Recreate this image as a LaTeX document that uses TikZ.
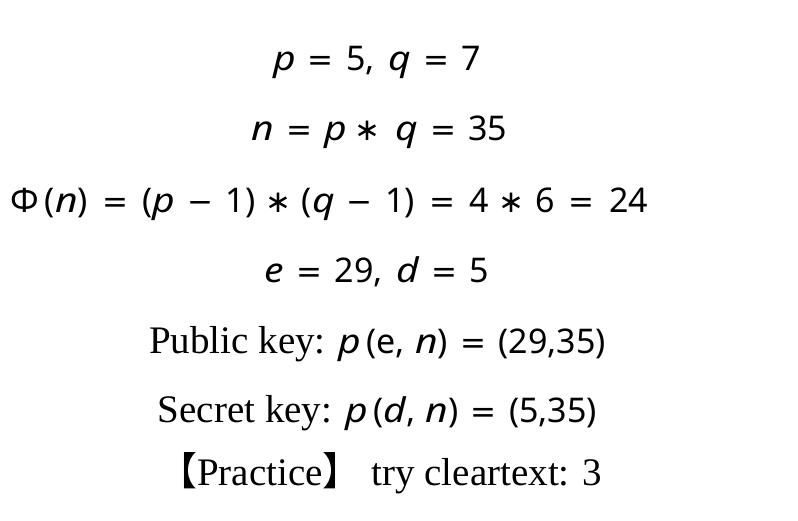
\documentclass[tikz,border=0pt]{standalone}
\usepackage{fontspec}
\usepackage{graphicx}
\setmainfont{Liberation Serif}
\newfontfamily\mymf{Noto Sans}
\newfontfamily\symf{DejaVu Sans}
\newfontfamily\cjk{Noto Sans CJK SC}
\newcommand{\vr}[1]{\scalebox{1.15}[1]{\textit{#1}}}
\newcommand{\opf}{\symf\fontsize{31}{36}\selectfont}
\newcommand{\eqsp}{0.36em}
\newcommand{\mnsp}{0.3em}
\newcommand{\assp}{0.2em}
\newcommand{\eqs}{\hspace{\eqsp}{\opf =}\hspace{\eqsp}}
\newcommand{\mns}{\hspace{\mnsp}{\opf −}\hspace{\mnsp}}
\newcommand{\astk}{\hspace{\assp}{\opf\char"2217}\hspace{\assp}}
\newcommand{\msz}{\mymf\fontsize{34}{40}\selectfont}
\begin{document}
\begin{tikzpicture}[x=1pt,y=-1pt,
  mline/.style={anchor=base,inner sep=0pt,font=\msz},
  tline/.style={anchor=base,inner sep=0pt,font=\fontsize{39}{46}\selectfont}]
\useasboundingbox (0,0) rectangle (798,520);
\node[mline] (l1) at (377,70) {\vr{p}\eqs 5,\hspace{0.4em}\vr{q}\eqs 7};
\node[mline] (l2) at (379.5,140) {\vr{n}\eqs\vr{p}\astk\hspace{0.25em}\vr{q}\eqs 35};
\node[mline,anchor=base west] (l3) at (10,212) {\renewcommand{\eqsp}{0.42em}\renewcommand{\mnsp}{0.36em}\renewcommand{\assp}{0.3em}%
  Φ\hspace{0.18em}(\vr{n})\eqs (\vr{p}\mns 1)\astk(\vr{q}\mns 1)\eqs 4\astk 6\eqs 24};
\node[mline] (l4) at (377,282) {\vr{e}\eqs 29,\hspace{0.4em}\vr{d}\eqs 5};
\node[tline] (l5) at (377.5,353) {Public key: {\msz\vr{p}\hspace{0.15em}(e,\hspace{0.3em}\vr{n})\eqs (29,35)}};
\node[tline] (l6) at (377.5,422) {Secret key: {\msz\vr{p}\hspace{0.15em}(\vr{d},\hspace{0.3em}\vr{n})\eqs (5,35)}};
\node[tline,anchor=base west] (l7) at (158,485) {{\cjk 【}Practice{\cjk 】} try cleartext: 3};
\end{tikzpicture}
\end{document}
